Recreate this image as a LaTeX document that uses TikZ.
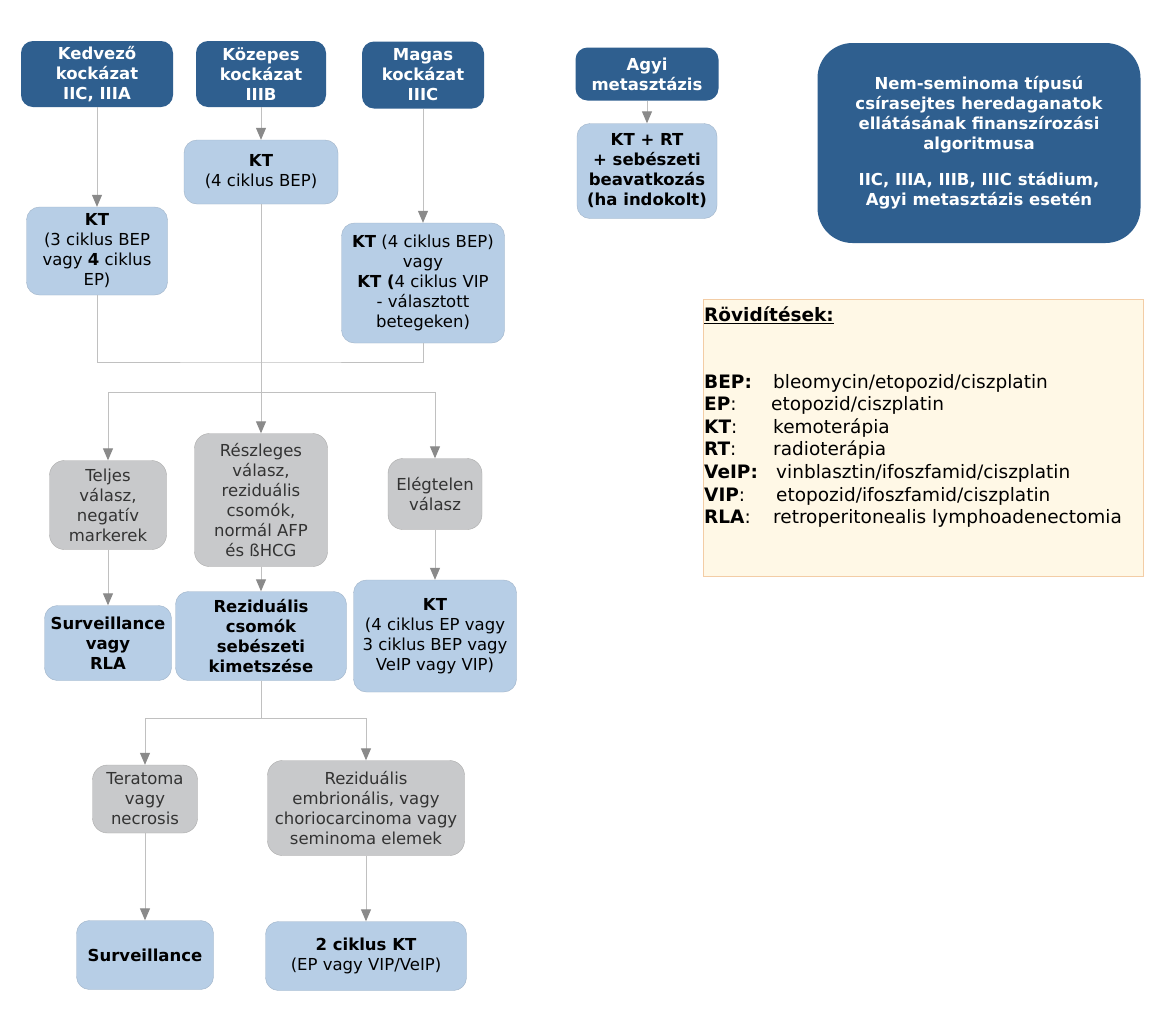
\documentclass[tikz,border=0pt]{standalone}
\usepackage{fontspec}
\setmainfont{DejaVu Sans}
\usetikzlibrary{arrows.meta}
\definecolor{riskblue}{HTML}{2F5F8F}
\definecolor{kthblue}{HTML}{B7CEE6}
\definecolor{kthedge}{HTML}{9FB3C8}
\definecolor{respgrey}{HTML}{C8C9CB}
\definecolor{respedge}{HTML}{ABABAB}
\definecolor{connline}{HTML}{C0C0C0}
\definecolor{tipgrey}{HTML}{8A8A8A}
\definecolor{legfill}{HTML}{FFF8E6}
\definecolor{legedge}{HTML}{F3CDA6}

\begin{document}
\begin{tikzpicture}[
    x=1pt, y=-1pt,
    every node/.style={inner sep=0pt, align=center, font=\fontsize{16.5}{20}\selectfont},
    sz/.style 2 args={minimum width=#1pt, minimum height=#2pt},
    strong/.style={font=\fontsize{16.5}{20}\selectfont\bfseries},
    risk/.style={fill=riskblue, rounded corners=12pt, text=white, strong},
    therapy/.style={fill=kthblue, draw=kthedge, rounded corners=13pt, text=black},
    response/.style={fill=respgrey, draw=respedge, rounded corners=15pt, text=black!80},
    conn/.style={draw=connline, line width=1pt},
    arr/.style={conn, -{Triangle[width=10pt,length=12pt,color=tipgrey]}},
  ]
  \fill[white] (0,0) rectangle (1165,1021);
  \useasboundingbox (0,0) rectangle (1165,1021);

  \node[risk, sz={152}{66}] (kedv) at (97,74) {Kedvező\\kockázat\\IIC, IIIA};
  \node[risk, sz={130}{66}] (kozep) at (261,74) {Közepes\\kockázat\\IIIB};
  \node[risk, sz={122}{67}] (magas) at (423,75) {Magas\\kockázat\\IIIC};
  \node[risk, sz={143}{53}] (agyi) at (647,74) {Agyi\\metasztázis};
  \node[risk, sz={323}{200}, rounded corners=35pt] (title) at (979,143)
    {Nem-seminoma típusú\\csírasejtes heredaganatok\\ellátásának finanszírozási\\algoritmusa\\[16pt]
     IIC, IIIA, IIIB, IIIC stádium,\\Agyi metasztázis esetén};

  \node[therapy, sz={154}{64}] (ktb) at (261,172) {\textbf{KT}\\(4 ciklus BEP)};
  \node[therapy, sz={141}{88}] (kt1) at (97,251) {\textbf{KT}\\(3 ciklus BEP\\vagy \textbf{4} ciklus\\EP)};
  \node[therapy, sz={163}{120}] (ktm) at (423,283)
    {\textbf{KT} (4 ciklus BEP)\\vagy\\\textbf{KT (}4 ciklus VIP\\- választott\\betegeken)};
  \node[therapy, strong, sz={140}{95}] (ktrt) at (647,171) {KT + RT\\+ sebészeti\\beavatkozás\\(ha indokolt)};

  \node[response, sz={117}{89}] (teljes) at (108,505) {Teljes\\válasz,\\negatív\\markerek};
  \node[response, sz={133}{133}] (resz) at (261,500) {Részleges\\válasz,\\reziduális\\csomók,\\normál AFP\\és ßHCG};
  \node[response, sz={94}{71}] (elegt) at (435,494) {Elégtelen\\válasz};

  \node[therapy, strong, sz={127}{75}] (survrla) at (108,643) {Surveillance\\vagy\\RLA};
  \node[therapy, strong, sz={171}{89}] (rezcs) at (261,636) {Reziduális\\csomók\\sebészeti\\kimetszése};
  \node[therapy, sz={163}{112}] (ktep) at (435,636) {\textbf{KT}\\(4 ciklus EP vagy\\3 ciklus BEP vagy\\VeIP vagy VIP)};

  \node[response, sz={105}{68}] (terat) at (145,799) {Teratoma\\vagy\\necrosis};
  \node[response, sz={197}{95}] (rezemb) at (366,808) {Reziduális\\embrionális, vagy\\choriocarcinoma vagy\\seminoma elemek};

  \node[therapy, strong, sz={137}{69}] (surv) at (145,955) {Surveillance};
  \node[therapy, sz={201}{69}] (ciklus) at (366,956) {\textbf{2 ciklus KT}\\(EP vagy VIP/VeIP)};

  \node[draw=legedge, fill=legfill, sz={440}{277}, anchor=north west] (legend) at (703,299) {};
  \node[anchor=west, font=\fontsize{18.5}{22.6}\selectfont\bfseries] (leghead) at (704,315) {\underline{Rövidítések:}};
  \node[anchor=north west, align=left, font=\fontsize{18.5}{22.6}\selectfont] (leglist) at (704,372) {%
    \begin{tabular}{@{}p{69pt}@{}l@{}}
      \textbf{BEP:} & bleomycin/etopozid/ciszplatin\\
      \textbf{EP}: & \hspace{-2pt}etopozid/ciszplatin\\
      \textbf{KT}: & kemoterápia\\
      \textbf{RT}: & radioterápia\\
      \textbf{VeIP:} & \hspace{3pt}vinblasztin/ifoszfamid/ciszplatin\\
      \textbf{VIP}: & \hspace{3pt}etopozid/ifoszfamid/ciszplatin\\
      \textbf{RLA}: & retroperitonealis lymphoadenectomia
    \end{tabular}};

  \draw[arr] (kedv) -- (kt1);
  \draw[arr] (kozep) -- (ktb);
  \draw[arr] (magas) -- (ktm);
  \draw[arr] (agyi) -- (ktrt);
  \coordinate (join) at (261,362);
  \draw[conn] (kt1.south) |- (join) -| (ktm.south);
  \draw[arr] (ktb) -- (resz);
  \coordinate (split) at (261,392);
  \draw[arr] (split) -| (teljes.north);
  \draw[arr] (split) -| (elegt.north);
  \draw[arr] (teljes) -- (survrla);
  \draw[arr] (resz) -- (rezcs);
  \draw[arr] (elegt) -- (ktep);
  \coordinate (branch) at (261,718);
  \draw[conn] (rezcs) -- (branch);
  \draw[arr] (branch) -| (terat.north);
  \draw[arr] (branch) -| (rezemb.north);
  \draw[arr] (terat) -- (surv);
  \draw[arr] (rezemb) -- (ciklus);
\end{tikzpicture}
\end{document}
